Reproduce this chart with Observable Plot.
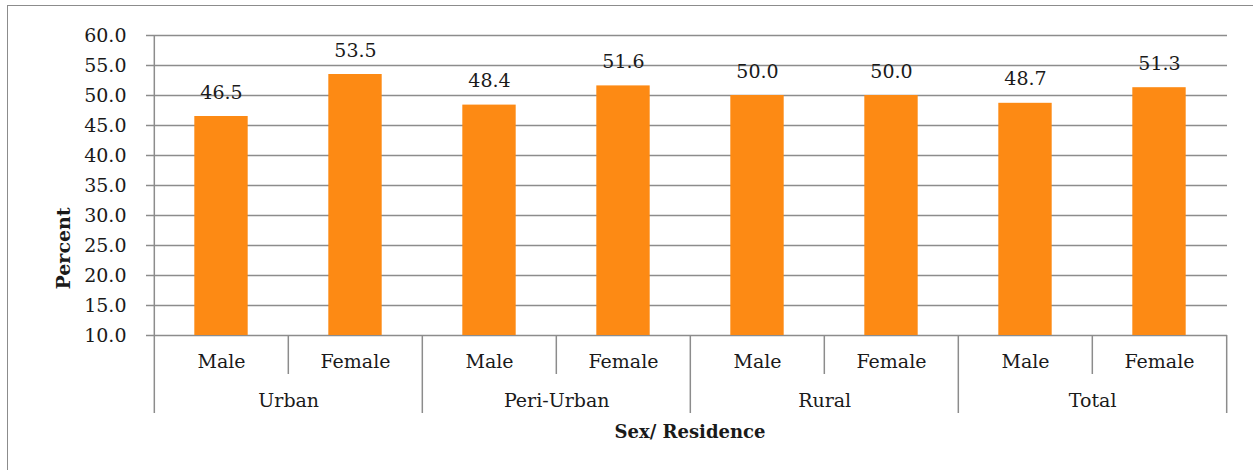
<!DOCTYPE html>
<html>
<head>
<meta charset="utf-8">
<script src="https://cdn.jsdelivr.net/npm/d3@7"></script>
<script src="https://cdn.jsdelivr.net/npm/@observablehq/plot@0.6"></script>
<style>
  html, body { margin: 0; padding: 0; background: #fff; overflow: hidden; }
  #wrap { position: relative; width: 1253px; height: 470px; overflow: hidden; }
  #border { position: absolute; left: 7px; top: 5px; width: 1400px; height: 600px;
            border-left: 1.5px solid #8c8c8c; border-top: 1.5px solid #8c8c8c; }
  #chart { position: absolute; left: 0; top: 0; }
  svg text { fill: #1a1a1a; }
</style>
</head>
<body>
<div id="wrap"><div id="border"></div><div id="chart"></div></div>
<script>
const residences = ["Urban", "Peri-Urban", "Rural", "Total"];
const sexes = ["Male", "Female"];
const percents = [46.5, 53.5, 48.4, 51.6, 50.0, 50.0, 48.7, 51.3];
const yTicks = [10, 15, 20, 25, 30, 35, 40, 45, 50, 55, 60];
const xTitle = "Sex/ Residence";
const yTitle = "Percent";

const data = [];
residences.forEach((r, i) => sexes.forEach((s, j) => {
  data.push({key: r + "|" + s, residence: r, sex: s, value: percents[i * 2 + j]});
}));
const keys = data.map(d => d.key);

const W = 1253, H = 470;
const mL = 152, mR = 26, mT = 35, mB = 135;
const bw = (W - mL - mR) / keys.length;
const grid = "#8c8c8c";
const font = "DejaVu Serif";

const inner = data.filter(d => d.sex === "Female");
const groupStarts = data.filter(d => d.sex === "Male");
const last = data[data.length - 1];
const groupLabels = data.filter(d => d.sex === "Male");

const chart = Plot.plot({
  width: W, height: H,
  marginLeft: mL, marginRight: mR, marginTop: mT, marginBottom: mB,
  style: {fontFamily: font, background: "transparent", overflow: "visible"},
  x: {type: "band", domain: keys, padding: 0, axis: null},
  y: {domain: [10, 60], axis: null},
  marks: [
    Plot.ruleY(yTicks, {stroke: grid, strokeWidth: 1.5}),
    Plot.axisY({ticks: yTicks, tickFormat: d => d.toFixed(1), tickSize: 6, tickPadding: 20,
                fontSize: 19, stroke: grid, strokeWidth: 1.5, label: null}),
    Plot.ruleX([data[0]], {x: "key", dx: -bw / 2, stroke: grid, strokeWidth: 1.5}),
    Plot.barY(data, {x: "key", y1: 10, y2: "value", fill: "#FD8A14",
                     insetLeft: bw * 0.3, insetRight: bw * 0.3}),
    Plot.text(data, {x: "key", y: "value", text: d => d.value.toFixed(1), dy: -24,
                     fontSize: 19, lineAnchor: "middle"}),
    Plot.ruleX(inner, {x: "key", y1: 10, y2: 10, dx: -bw / 2, insetBottom: -39,
                       stroke: grid, strokeWidth: 1.5}),
    Plot.ruleX(groupStarts, {x: "key", y1: 10, y2: 10, dx: -bw / 2, insetBottom: -78,
                             stroke: grid, strokeWidth: 1.5}),
    Plot.ruleX([last], {x: "key", y1: 10, y2: 10, dx: bw / 2, insetBottom: -78,
                        stroke: grid, strokeWidth: 1.5}),
    Plot.text(data, {x: "key", text: "sex", frameAnchor: "bottom", dy: 26,
                     fontSize: 19, lineAnchor: "middle"}),
    Plot.text(groupLabels, {x: "key", text: "residence", frameAnchor: "bottom", dx: bw / 2, dy: 65,
                            fontSize: 19, lineAnchor: "middle"}),
    Plot.text([xTitle], {frameAnchor: "bottom", dy: 97, fontSize: 18, fontWeight: "bold",
                         lineAnchor: "middle"}),
    Plot.text([yTitle], {frameAnchor: "left", rotate: -90, dx: -89, dy: 104, fontSize: 19,
                         fontWeight: "bold", lineAnchor: "middle"})
  ]
});
document.getElementById("chart").appendChild(chart);
</script>
</body>
</html>
